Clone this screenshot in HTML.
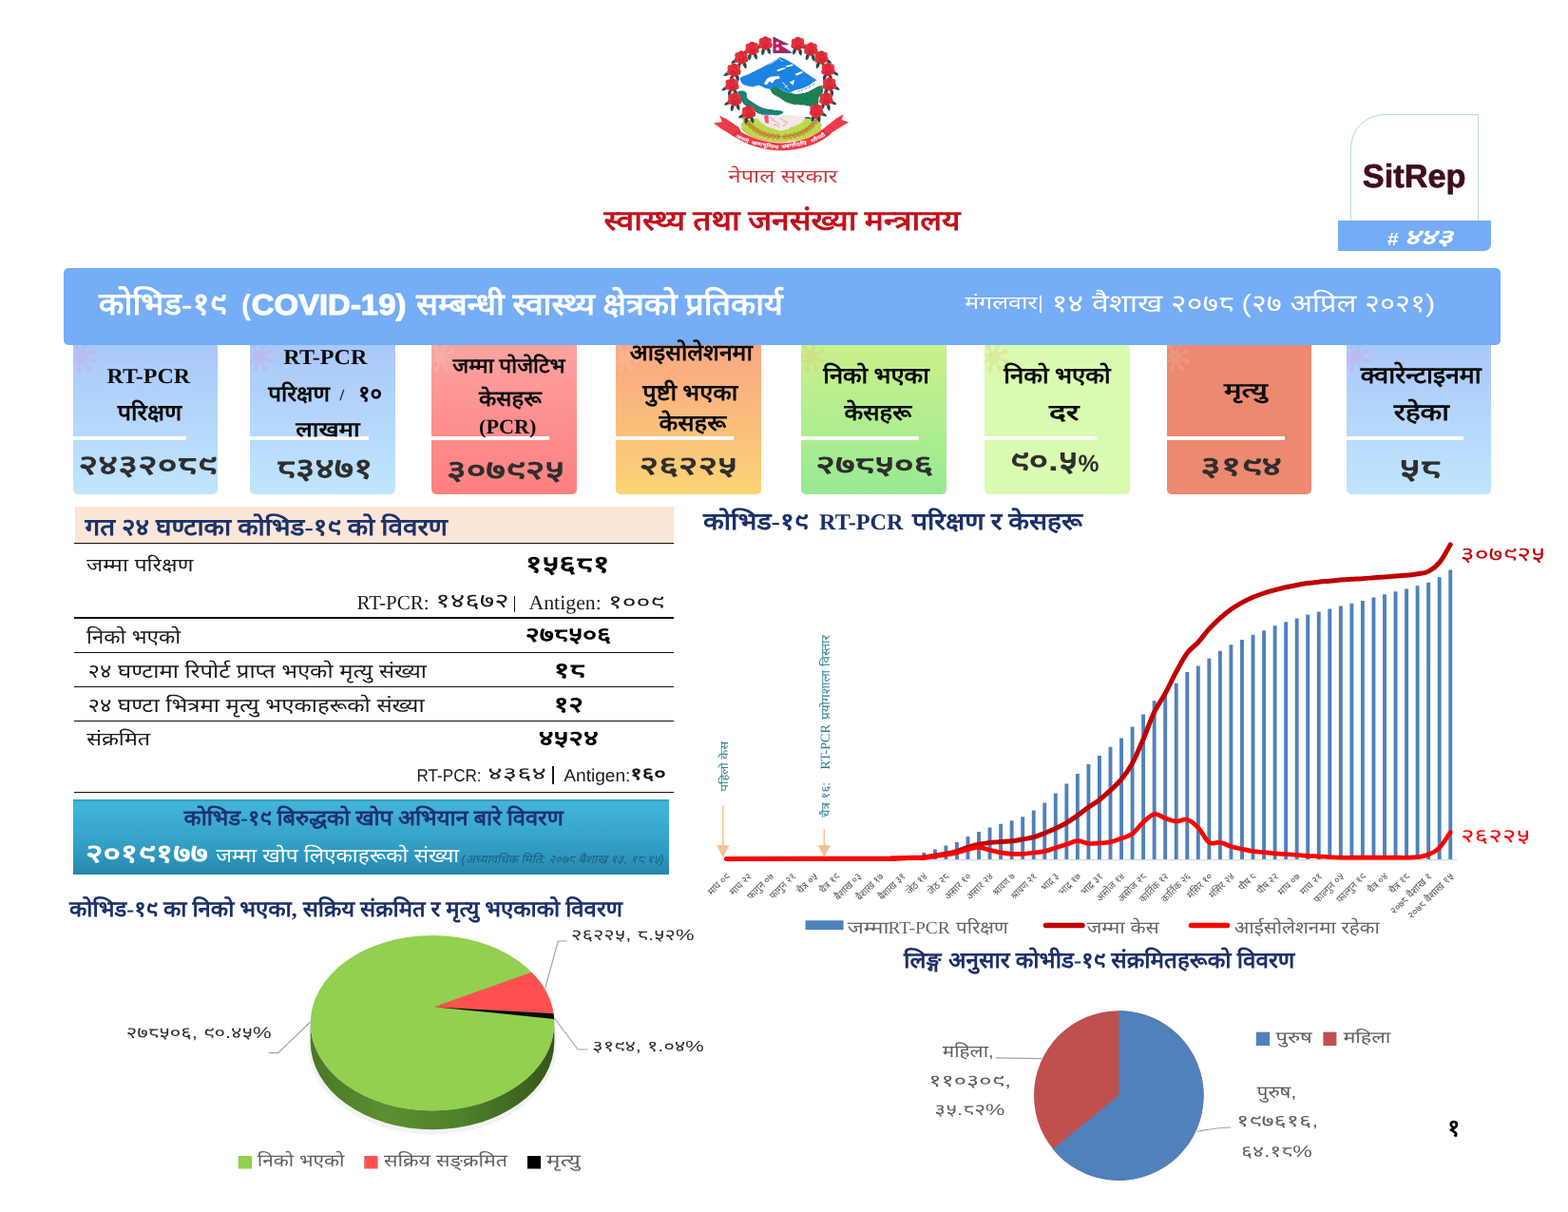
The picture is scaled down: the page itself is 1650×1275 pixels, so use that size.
<!DOCTYPE html>
<html lang="ne"><head><meta charset="utf-8"><title>COVID-19 SitRep #443 - MoHP Nepal</title><style>
html,body{margin:0;padding:0;background:#fff}
#page{position:relative;width:1650px;height:1275px;overflow:hidden;background:#fff;font-family:"Liberation Sans",sans-serif}
#page>div{position:absolute}
#page>svg{position:absolute;left:0;top:0}
.l{white-space:nowrap;line-height:1;transform-origin:0 50%}
.ls{font-family:"Liberation Serif",serif}.lsb{font-family:"Liberation Serif",serif;font-weight:700}
.la{font-family:"Liberation Sans",sans-serif}.lab{font-family:"Liberation Sans",sans-serif;font-weight:700}
svg text{white-space:pre;text-rendering:geometricPrecision;opacity:.999}
</style></head><body>
<div id="page">
<div style="left:1420.5px;top:119.5px;width:135px;height:113px;border:1px solid #b9dcdc;border-bottom:none;border-radius:36px 0 0 0;box-sizing:border-box"></div>
<div style="left:1407.5px;top:231.7px;width:161px;height:32.6px;background:#74acf7;border-radius:0 0 7px 0"></div>
<div style="left:76.7px;top:355px;width:152.6px;height:164.5px;background:linear-gradient(180deg,#a8c6fa 0%,#b4d6fb 50%,#c0e6fd 100%);border-radius:0 0 5px 5px"></div>
<div style="left:76.7px;top:458.9px;width:119.1px;height:3.7px;background:#fff"></div>
<div style="left:263px;top:355px;width:152.8px;height:164.5px;background:linear-gradient(180deg,#a8c6fa 0%,#b4d6fb 50%,#c0e6fd 100%);border-radius:0 0 5px 5px"></div>
<div style="left:263px;top:458.9px;width:125.3px;height:3.7px;background:#fff"></div>
<div style="left:454.2px;top:355px;width:152.5px;height:164.5px;background:linear-gradient(180deg,#fba7a3 0%,#fd9090 50%,#ff8080 100%);border-radius:0 0 5px 5px"></div>
<div style="left:454.2px;top:458.9px;width:124.1px;height:3.7px;background:#fff"></div>
<div style="left:648.3px;top:355px;width:152.9px;height:164.5px;background:linear-gradient(180deg,#f9a585 0%,#fabb7c 50%,#fbd474 100%);border-radius:0 0 5px 5px"></div>
<div style="left:648.3px;top:458.9px;width:124.2px;height:3.7px;background:#fff"></div>
<div style="left:843.3px;top:355px;width:152.6px;height:164.5px;background:linear-gradient(180deg,#ccf08c 0%,#b3ee8e 50%,#98e993 100%);border-radius:0 0 5px 5px"></div>
<div style="left:843.3px;top:458.9px;width:124.2px;height:3.7px;background:#fff"></div>
<div style="left:1036.3px;top:355px;width:152.9px;height:164.5px;background:#d9fbb0;border-radius:0 0 5px 5px"></div>
<div style="left:1036.3px;top:458.9px;width:117.9px;height:3.7px;background:#fff"></div>
<div style="left:1227.5px;top:355px;width:152.5px;height:164.5px;background:#ec8971;border-radius:0 0 5px 5px"></div>
<div style="left:1227.5px;top:458.9px;width:124.2px;height:3.7px;background:#fff"></div>
<div style="left:1417px;top:355px;width:152.3px;height:164.5px;background:linear-gradient(180deg,#a8c6fa 0%,#b4d6fb 50%,#c0e6fd 100%);border-radius:0 0 5px 5px"></div>
<div style="left:1417px;top:458.9px;width:123.2px;height:3.7px;background:#fff"></div>
<div style="left:67.4px;top:282.2px;width:1512px;height:81.1px;background:#75adf7;border-radius:5px"></div>
<div style="left:78.5px;top:532.5px;width:630px;height:39px;background:#fbe5d6"></div>
<div style="left:77.7px;top:570.8px;width:631px;height:1.3px;background:#111"></div>
<div style="left:77.7px;top:649.3px;width:631px;height:1.3px;background:#111"></div>
<div style="left:77.7px;top:685.6px;width:631px;height:1.3px;background:#111"></div>
<div style="left:77.7px;top:721.6px;width:631px;height:1.3px;background:#111"></div>
<div style="left:77.7px;top:757.8px;width:631px;height:1.3px;background:#111"></div>
<div style="left:77.7px;top:832.7px;width:631px;height:1.3px;background:#111"></div>
<div style="left:540.5px;top:627px;width:1.3px;height:17px;background:#1a1a1a"></div>
<div style="left:580.7px;top:806.4px;width:2.2px;height:18.2px;background:#1a1a1a"></div>
<div style="left:77px;top:841px;width:627px;height:79.4px;background:linear-gradient(180deg,#3197be 0%,#42b4da 4%,#39a8d0 40%,#2e98bf 75%,#2785ab 100%)"></div>
<svg width="1650" height="1275" viewBox="0 0 1650 1275">
<defs><g id="virus"><circle r="5.6"/><path d="M4.78 1.48L10.51 3.25" stroke-width="2.2" stroke-linecap="round"/><circle cx="11.46" cy="3.55" r="1.9"/><path d="M2.33 4.42L5.13 9.73" stroke-width="2.2" stroke-linecap="round"/><circle cx="5.6" cy="10.61" r="1.9"/><path d="M-1.48 4.78L-3.25 10.51" stroke-width="2.2" stroke-linecap="round"/><circle cx="-3.55" cy="11.46" r="1.9"/><path d="M-4.42 2.33L-9.73 5.13" stroke-width="2.2" stroke-linecap="round"/><circle cx="-10.61" cy="5.6" r="1.9"/><path d="M-4.78 -1.48L-10.51 -3.25" stroke-width="2.2" stroke-linecap="round"/><circle cx="-11.46" cy="-3.55" r="1.9"/><path d="M-2.33 -4.42L-5.13 -9.73" stroke-width="2.2" stroke-linecap="round"/><circle cx="-5.6" cy="-10.61" r="1.9"/><path d="M1.48 -4.78L3.25 -10.51" stroke-width="2.2" stroke-linecap="round"/><circle cx="3.55" cy="-11.46" r="1.9"/><path d="M4.42 -2.33L9.73 -5.13" stroke-width="2.2" stroke-linecap="round"/><circle cx="10.61" cy="-5.6" r="1.9"/></g><clipPath id="cc0"><rect x="76.7" y="363.3" width="152.6" height="156"/></clipPath><clipPath id="cc1"><rect x="263" y="363.3" width="152.8" height="156"/></clipPath><clipPath id="cc2"><rect x="454.2" y="363.3" width="152.5" height="156"/></clipPath><clipPath id="cc3"><rect x="648.3" y="363.3" width="152.9" height="156"/></clipPath><clipPath id="cc4"><rect x="843.3" y="363.3" width="152.6" height="156"/></clipPath><clipPath id="cc5"><rect x="1036.3" y="363.3" width="152.9" height="156"/></clipPath><clipPath id="cc6"><rect x="1227.5" y="363.3" width="152.5" height="156"/></clipPath><clipPath id="cc7"><rect x="1417" y="363.3" width="152.3" height="156"/></clipPath><linearGradient id="pside" x1="0" y1="0" x2="1" y2="0"><stop offset="0" stop-color="#4a7727"/><stop offset="0.3" stop-color="#5b9030"/><stop offset="0.62" stop-color="#4f802b"/><stop offset="1" stop-color="#34571b"/></linearGradient><filter id="soft" x="-5%" y="-5%" width="110%" height="110%"><feGaussianBlur stdDeviation="0.5"/></filter><radialGradient id="flw" cx="0.45" cy="0.4" r="0.65"><stop offset="0" stop-color="#ee3f48"/><stop offset="0.7" stop-color="#e02b38"/><stop offset="1" stop-color="#cf2433"/></radialGradient><g id="flower"><circle r="5.4" fill="url(#flw)"/><circle cx="-3.3" cy="-2.2" r="3.1" fill="#e5303c"/><circle cx="3.2" cy="-2.6" r="3" fill="#e83640"/><circle cx="0" cy="-4" r="2.9" fill="#dd2c38"/><circle cx="-3.8" cy="2" r="3" fill="#e2303b"/><circle cx="3.9" cy="1.8" r="3" fill="#df2d3a"/><circle cx="0.2" cy="3.6" r="3.1" fill="#d92836"/><path d="M-2 -1.2q1.4 1.6 0.6 3.4M1.4 -2.6q-0.4 1.6 1.6 3.2M-0.5 1.5q1 1 2.4 0.8" stroke="#b81d2c" stroke-width="0.7" fill="none" opacity="0.7"/></g><path id="leaf" d="M0 0C1.4 -1.7 4.4 -1.9 6.3 0C4.4 1.9 1.4 1.7 0 0Z" fill="#1b4f4c"/></defs>
<g clip-path="url(#cc0)"><use href="#virus" x="86.2" y="376" fill="#d9a0d8" stroke="#d9a0d8" opacity="0.36" transform="translate(86.2 376) scale(1.1) translate(-86.2 -376)"/></g>
<g clip-path="url(#cc1)"><use href="#virus" x="272.5" y="376" fill="#d9a0d8" stroke="#d9a0d8" opacity="0.36" transform="translate(272.5 376) scale(1.1) translate(-272.5 -376)"/></g>
<g clip-path="url(#cc2)"><use href="#virus" x="463.7" y="376" fill="#f7c1b4" stroke="#f7c1b4" opacity="0.36" transform="translate(463.7 376) scale(1.1) translate(-463.7 -376)"/></g>
<g clip-path="url(#cc3)"><use href="#virus" x="657.8" y="376" fill="#fcc0a6" stroke="#fcc0a6" opacity="0.36" transform="translate(657.8 376) scale(1.1) translate(-657.8 -376)"/></g>
<g clip-path="url(#cc4)"><use href="#virus" x="852.8" y="376" fill="#d6cc6e" stroke="#d6cc6e" opacity="0.36" transform="translate(852.8 376) scale(1.1) translate(-852.8 -376)"/></g>
<g clip-path="url(#cc5)"><use href="#virus" x="1045.8" y="376" fill="#dccf7c" stroke="#dccf7c" opacity="0.36" transform="translate(1045.8 376) scale(1.1) translate(-1045.8 -376)"/></g>
<g clip-path="url(#cc6)"><use href="#virus" x="1237" y="376" fill="#f4aa98" stroke="#f4aa98" opacity="0.36" transform="translate(1237 376) scale(1.1) translate(-1237 -376)"/></g>
<g clip-path="url(#cc7)"><use href="#virus" x="1426.5" y="376" fill="#d9a0d8" stroke="#d9a0d8" opacity="0.36" transform="translate(1426.5 376) scale(1.1) translate(-1426.5 -376)"/></g>
<rect x="765" y="904" width="768" height="1.3" fill="#d9d9d9"/>
<path d="M924.21 903.9h3.9v-0.9h-3.9zM935.75 903.9h3.9v-1.3h-3.9zM947.29 903.9h3.9v-1.8h-3.9zM958.83 903.9h3.9v-2.5h-3.9zM970.37 903.9h3.9v-6.9h-3.9zM981.91 903.9h3.9v-10.5h-3.9zM993.45 903.9h3.9v-14.3h-3.9zM1004.99 903.9h3.9v-17.8h-3.9zM1016.53 903.9h3.9v-23.8h-3.9zM1028.07 903.9h3.9v-28.9h-3.9zM1039.61 903.9h3.9v-33.4h-3.9zM1051.15 903.9h3.9v-37.2h-3.9zM1062.69 903.9h3.9v-40.7h-3.9zM1074.23 903.9h3.9v-44.7h-3.9zM1085.77 903.9h3.9v-51.4h-3.9zM1097.31 903.9h3.9v-59.4h-3.9zM1108.85 903.9h3.9v-69.4h-3.9zM1120.39 903.9h3.9v-79.4h-3.9zM1131.93 903.9h3.9v-89.8h-3.9zM1143.47 903.9h3.9v-99.8h-3.9zM1155.01 903.9h3.9v-108.8h-3.9zM1166.55 903.9h3.9v-118.2h-3.9zM1178.09 903.9h3.9v-127.5h-3.9zM1189.63 903.9h3.9v-139.3h-3.9zM1201.17 903.9h3.9v-152.5h-3.9zM1212.71 903.9h3.9v-166.6h-3.9zM1224.25 903.9h3.9v-175.9h-3.9zM1235.79 903.9h3.9v-185.2h-3.9zM1247.33 903.9h3.9v-196.8h-3.9zM1258.87 903.9h3.9v-203.3h-3.9zM1270.41 903.9h3.9v-211.2h-3.9zM1281.95 903.9h3.9v-219.1h-3.9zM1293.49 903.9h3.9v-225.6h-3.9zM1305.03 903.9h3.9v-231h-3.9zM1316.57 903.9h3.9v-236.1h-3.9zM1328.11 903.9h3.9v-240.6h-3.9zM1339.65 903.9h3.9v-245.7h-3.9zM1351.19 903.9h3.9v-249.7h-3.9zM1362.73 903.9h3.9v-253.3h-3.9zM1374.27 903.9h3.9v-257.3h-3.9zM1385.81 903.9h3.9v-260.5h-3.9zM1397.35 903.9h3.9v-263.3h-3.9zM1408.89 903.9h3.9v-266.5h-3.9zM1420.43 903.9h3.9v-269.1h-3.9zM1431.97 903.9h3.9v-272h-3.9zM1443.51 903.9h3.9v-275.5h-3.9zM1455.05 903.9h3.9v-278.7h-3.9zM1466.59 903.9h3.9v-281.6h-3.9zM1478.13 903.9h3.9v-284.5h-3.9zM1489.67 903.9h3.9v-287.7h-3.9zM1501.21 903.9h3.9v-291.2h-3.9zM1512.75 903.9h3.9v-296.7h-3.9zM1524.29 903.9h3.9v-304.5h-3.9z" fill="#4f81bd"/>
<path d="M764.6 903.4C794.22 903.38 894.43 903.35 926.16 903.3C957.9 903.25 933.47 903.19 937.7 903.1C941.93 903.01 945.01 902.95 949.24 902.8C953.47 902.65 956.55 902.46 960.78 902.3C965.01 902.13 968.09 902.3 972.32 901.9C976.55 901.5 979.63 900.76 983.86 900.1C988.09 899.44 991.17 899.12 995.4 898.3C999.63 897.47 1002.71 896.87 1006.94 895.6C1011.17 894.34 1014.25 892.74 1018.48 891.4C1022.71 890.06 1025.79 889.2 1030.02 888.3C1034.25 887.4 1037.33 887 1041.56 886.5C1045.79 886 1048.87 885.93 1053.1 885.6C1057.33 885.27 1060.41 885.19 1064.64 884.7C1068.87 884.2 1071.95 883.63 1076.18 882.9C1080.41 882.17 1083.49 881.87 1087.72 880.7C1091.95 879.53 1095.03 878.17 1099.26 876.5C1103.49 874.83 1106.57 873.6 1110.8 871.6C1115.03 869.6 1118.11 868.11 1122.34 865.6C1126.57 863.09 1129.65 860.91 1133.88 857.9C1138.11 854.89 1141.19 852.22 1145.42 849.2C1149.65 846.17 1152.73 844.66 1156.96 841.4C1161.19 838.14 1164.27 835.34 1168.5 831.4C1172.73 827.46 1175.81 825.12 1180.04 819.9C1184.27 814.67 1187.35 810.69 1191.58 802.9C1195.81 795.11 1198.89 787.25 1203.12 777.4C1207.35 767.55 1210.43 758 1214.66 749.2C1218.89 740.4 1221.97 737.17 1226.2 729.4C1230.43 721.63 1233.51 714.57 1237.74 706.8C1241.97 699.03 1245.05 692.7 1249.28 687C1253.51 681.3 1256.59 680.36 1260.82 675.7C1265.05 671.04 1268.13 666.26 1272.36 661.6C1276.59 656.94 1279.67 654.08 1283.9 650.3C1288.13 646.52 1291.21 644.01 1295.44 641C1299.67 637.99 1302.75 636.23 1306.98 633.9C1311.21 631.57 1314.29 630.11 1318.52 628.3C1322.75 626.49 1325.83 625.41 1330.06 624C1334.29 622.59 1337.37 621.74 1341.6 620.6C1345.83 619.46 1348.91 618.73 1353.14 617.8C1357.37 616.87 1360.45 616.27 1364.68 615.5C1368.91 614.73 1371.99 614.2 1376.22 613.6C1380.45 612.99 1383.53 612.64 1387.76 612.2C1391.99 611.76 1395.07 611.59 1399.3 611.2C1403.53 610.82 1406.61 610.45 1410.84 610.1C1415.07 609.75 1418.15 609.56 1422.38 609.3C1426.61 609.04 1429.69 608.98 1433.92 608.7C1438.15 608.43 1441.23 608.13 1445.46 607.8C1449.69 607.47 1452.77 607.21 1457 606.9C1461.23 606.59 1464.31 606.41 1468.54 606.1C1472.77 605.79 1475.85 605.64 1480.08 605.2C1484.31 604.76 1487.39 604.45 1491.62 603.7C1495.85 602.95 1498.93 603.28 1503.16 601.1C1507.39 598.92 1510.47 596.95 1514.7 591.8C1518.93 586.65 1524.12 576.45 1526.24 573" fill="none" stroke="#c00000" stroke-width="5.0" stroke-linecap="round" stroke-linejoin="round"/>
<path d="M764.6 903.4C794.22 903.38 894.43 903.35 926.16 903.3C957.9 903.25 933.47 903.19 937.7 903.1C941.93 903.01 945.01 902.91 949.24 902.8C953.47 902.69 956.55 902.59 960.78 902.5C965.01 902.41 968.09 902.63 972.32 902.3C976.55 901.97 979.63 901.27 983.86 900.7C988.09 900.13 991.17 899.9 995.4 899.2C999.63 898.5 1002.71 897.89 1006.94 896.9C1011.17 895.91 1014.25 894.81 1018.48 893.8C1022.71 892.79 1025.79 891.31 1030.02 891.4C1034.25 891.49 1037.33 893.29 1041.56 894.3C1045.79 895.31 1048.87 896.17 1053.1 896.9C1057.33 897.63 1060.41 898.04 1064.64 898.3C1068.87 898.56 1071.95 898.54 1076.18 898.3C1080.41 898.06 1083.49 897.5 1087.72 897C1091.95 896.5 1095.03 896.54 1099.26 895.6C1103.49 894.66 1106.57 893.24 1110.8 891.9C1115.03 890.56 1118.11 889.62 1122.34 888.3C1126.57 886.98 1129.65 884.86 1133.88 884.7C1138.11 884.53 1141.19 887 1145.42 887.4C1149.65 887.8 1152.73 887.17 1156.96 886.9C1161.19 886.62 1164.27 886.82 1168.5 885.9C1172.73 884.98 1175.81 883.51 1180.04 881.9C1184.27 880.29 1187.35 880.2 1191.58 877.1C1195.81 874 1198.89 868.78 1203.12 865C1207.35 861.22 1210.43 857.29 1214.66 856.5C1218.89 855.71 1221.97 859.31 1226.2 860.7C1230.43 862.09 1233.51 863.83 1237.74 864.1C1241.97 864.38 1245.05 861.01 1249.28 862.2C1253.51 863.39 1256.59 866.2 1260.82 870.6C1265.05 875 1268.13 883.34 1272.36 886.2C1276.59 889.06 1279.67 885.43 1283.9 886.2C1288.13 886.97 1291.21 889.12 1295.44 890.4C1299.67 891.68 1302.75 892.26 1306.98 893.2C1311.21 894.13 1314.29 894.88 1318.52 895.5C1322.75 896.12 1325.83 896.18 1330.06 896.6C1334.29 897.02 1337.37 897.43 1341.6 897.8C1345.83 898.17 1348.91 898.31 1353.14 898.6C1357.37 898.89 1360.45 899.09 1364.68 899.4C1368.91 899.71 1371.99 900.04 1376.22 900.3C1380.45 900.56 1383.53 900.56 1387.76 900.8C1391.99 901.04 1395.07 901.34 1399.3 901.6C1403.53 901.86 1406.61 902.09 1410.84 902.2C1415.07 902.31 1418.15 902.2 1422.38 902.2C1426.61 902.2 1429.69 902.2 1433.92 902.2C1438.15 902.2 1441.23 902.2 1445.46 902.2C1449.69 902.2 1452.77 902.2 1457 902.2C1461.23 902.2 1464.31 902.2 1468.54 902.2C1472.77 902.2 1475.85 902.29 1480.08 902.2C1484.31 902.11 1487.39 902.29 1491.62 901.7C1495.85 901.11 1498.93 900.81 1503.16 899C1507.39 897.19 1510.47 896.11 1514.7 891.8C1518.93 887.49 1524.12 878.49 1526.24 875.5" fill="none" stroke="#ff0000" stroke-width="4.7" stroke-linecap="round" stroke-linejoin="round"/>
<path d="M760.8 847.7V890" stroke="#f7c093" stroke-width="1.6" fill="none"/><path d="M754.1 889.3h13.4l-6.7 12.4z" fill="#f7c093"/>
<path d="M867.4 872.5V890" stroke="#f7c093" stroke-width="1.6" fill="none"/><path d="M860.7 889.3h13.4l-6.7 12.4z" fill="#f7c093"/>
<rect x="847.6" y="968.3" width="40" height="9.8" fill="#4f81bd"/>
<path d="M1100.5 973.4H1139" stroke="#c00000" stroke-width="5.5" stroke-linecap="round"/>
<path d="M1253.5 973.4H1291.5" stroke="#ff0000" stroke-width="5.5" stroke-linecap="round"/>
<ellipse cx="455.0" cy="1099.2" rx="131.3" ry="94.2" fill="#000" opacity="0.05"/>
<path d="M326.7 1076.2A128.3 92.2 0 0 0 583.3 1076.2V1096.2A128.3 92.2 0 0 1 326.7 1096.2Z" fill="url(#pside)"/>
<ellipse cx="455.0" cy="1076.2" rx="128.3" ry="92.2" fill="#92d050"/>
<path d="M456.7 1059.2L559.48 1022.69A128.3 92.2 0 0 1 582.54 1066.2Z" fill="#ff5050"/>
<path d="M456.7 1059.2L582.54 1066.2A128.3 92.2 0 0 1 583.16 1071.9Z" fill="#0a0a0a"/>
<path d="M582.54 1066.2L583.16 1071.9V1074.9L582.54 1069.2Z" fill="#000"/>
<path d="M282.7 1107.7H292.7L326.7 1075" fill="none" stroke="#a6a6a6" stroke-width="1.2"/>
<path d="M596.7 990H587.3L573.6 1040" fill="none" stroke="#a6a6a6" stroke-width="1.2"/>
<path d="M583 1070.5L608 1104H618.5" fill="none" stroke="#a6a6a6" stroke-width="1.2"/>
<rect x="250.7" y="1216" width="14.3" height="13.5" fill="#92d050"/><rect x="383.3" y="1216" width="14.3" height="13.5" fill="#ff5050"/><rect x="555" y="1216" width="14" height="13.5" fill="#000"/>
<circle cx="1177.3" cy="1152.5" r="89.3" fill="#c0504d"/>
<path d="M1177.3 1152.5V1063.2A89.3 89.3 0 1 1 1107.85 1208.64Z" fill="#4f81bd"/>
<path d="M1047.5 1112.8L1096.5 1113.6" fill="none" stroke="#a6a6a6" stroke-width="1.2"/>
<path d="M1259.5 1190.5Q1278 1186.5 1295 1186" fill="none" stroke="#a6a6a6" stroke-width="1.2"/>
<rect x="1321.8" y="1085.7" width="14.3" height="14.3" fill="#4f81bd"/><rect x="1392.4" y="1085.7" width="14" height="14.3" fill="#c0504d"/>
<g filter="url(#soft)"><path d="M778.91 81.91C779.8 80.65 786.42 78.72 789.09 77.46C791.76 76.19 798.85 72.65 801.82 71.09C804.79 69.53 812.39 65.35 814.55 64.09C816.7 62.83 818.79 60.42 820.27 60.27C821.76 60.12 825.34 61.85 827.27 62.82C829.2 63.78 834.59 67.06 836.82 68.55C839.05 70.03 844.29 74.06 846.37 75.55C848.44 77.03 853.12 80.22 854.64 81.27C856.16 82.33 859.04 83.54 859.41 84.58C859.78 85.62 858.97 88.86 857.82 90.18C856.67 91.5 851.63 94.98 849.55 95.91C847.47 96.84 841.93 97.95 840 98.14C838.07 98.32 834.63 97.76 833 97.5C831.37 97.24 827.56 96.47 826 95.91C824.44 95.35 820.97 93.19 819.64 92.73C818.3 92.27 815.59 91.85 814.55 91.96C813.51 92.08 811.77 93.59 810.73 93.68C809.69 93.77 807.05 93.2 805.64 92.73C804.23 92.26 800.2 89.86 798.64 89.67C797.08 89.49 793.76 91.08 792.27 91.14C790.79 91.2 787.17 90.52 785.91 90.18C784.65 89.85 782.27 89.24 781.45 88.27C780.64 87.31 778.02 83.17 778.91 81.91Z" fill="#1b84e2"/><path d="M809.46 67.91C810.3 67.38 812.9 65.79 814.55 64.73C816.19 63.67 818.26 61.86 819.32 61.55C820.38 61.23 820.11 62.29 820.91 62.82C821.71 63.35 823.56 64.41 824.09 64.73" fill="none" stroke="#fff" stroke-width="0.9" opacity="0.9"/><path d="M804.05 87.96C804.07 87.52 807.06 83.03 807.55 82.55C808.03 82.07 810.56 80.93 811.36 80.76C812.17 80.59 819.02 79.89 819.64 80C820.25 80.11 820.87 82.17 820.59 82.42C820.32 82.66 815.95 83.43 815.5 83.69C815.06 83.95 814.14 86.1 813.91 86.36C813.68 86.63 812.28 87.69 812 87.64C811.73 87.59 810.09 85.51 809.77 85.6C809.46 85.69 807.61 88.88 807.23 89.04C806.85 89.19 804.02 88.39 804.05 87.96Z" fill="#fff"/><path d="M817.73 73.51C818.4 73.1 824.51 71.09 825.36 70.96C826.22 70.84 826.99 71.83 826.32 72.24C825.65 72.64 819.54 74.91 818.68 75.04C817.82 75.16 817.06 73.92 817.73 73.51Z" fill="#fff"/><path d="M826.96 69.31C827.56 69.02 832.89 67.81 833.64 67.78C834.38 67.76 835.01 68.77 834.4 69.05C833.8 69.34 828.34 70.62 827.59 70.65C826.85 70.67 826.35 69.6 826.96 69.31Z" fill="#fff"/><path d="M837.14 77.58C837.71 77.12 843.07 75.02 843.82 74.91C844.56 74.79 845.16 75.98 844.58 76.44C844.01 76.89 838.84 79.38 838.09 79.49C837.35 79.61 836.56 78.04 837.14 77.58Z" fill="#fff"/><path d="M830.77 86.68C830.82 86.36 835.39 84.16 835.67 84.33C835.96 84.5 835.36 89.07 835.04 89.23C834.71 89.38 830.73 87.01 830.77 86.68Z" fill="#fff"/><path d="M823.46 86.36C823.99 87 825.52 88.86 826.64 90.18C827.75 91.51 829.55 93.63 830.14 94.32" fill="none" stroke="#fff" stroke-width="0.9"/><path d="M825.36 92.73C825.63 92.41 826.32 91.24 826.96 90.82C827.59 90.39 828.81 90.29 829.18 90.18" fill="none" stroke="#fff" stroke-width="0.7"/><path d="M810.73 93.68C810.73 92.84 813.51 91.95 814.55 91.84C815.59 91.73 818.3 92.22 819.64 92.73C820.97 93.24 824.44 95.62 826 96.23C827.56 96.84 831.37 97.65 833 97.95C834.63 98.24 838.07 98.9 840 98.77C841.93 98.65 847.32 97.68 849.55 96.86C851.77 96.05 857.31 92.55 859.09 91.77C860.87 90.99 864 89.63 864.82 90.18C865.64 90.74 866.46 95.06 866.09 96.55C865.72 98.03 862.23 101.43 861.64 102.91C861.04 104.39 861.82 108.23 861 109.27C860.18 110.31 856.35 111.73 854.64 111.82C852.93 111.91 848.59 110.32 846.37 110.04C844.14 109.76 837.77 109.79 835.55 109.4C833.32 109.01 828.98 107.54 827.27 106.73C825.57 105.91 822.39 103.29 820.91 102.4C819.43 101.51 815.73 100.11 814.55 99.09C813.36 98.07 810.73 94.53 810.73 93.68Z" fill="#1e8057"/><path d="M810.73 94C811.24 94.7 813.19 98.08 814.55 99.22C815.9 100.36 819.21 101.51 820.91 102.53C822.61 103.55 825.32 105.92 827.27 106.86C829.23 107.79 833 109.09 835.55 109.53C838.09 109.97 843.82 109.84 846.37 110.16C848.91 110.49 853.53 111.71 854.64 111.95" fill="none" stroke="#12503a" stroke-width="1.1" stroke-dasharray="1.5 0.9"/><path d="M832.68 96.55C832.94 96.22 834.96 95.52 836.18 95.15C837.41 94.78 841.25 94.09 843.18 93.36C845.11 92.64 850.87 89.93 852.73 88.91C854.58 87.89 858.16 84.73 859.09 84.58C860.02 84.43 860.79 86.8 860.68 87.64C860.57 88.48 859.44 90.73 858.14 91.77C856.84 92.81 851.66 95.75 849.55 96.55C847.43 97.34 841.82 98.42 840 98.58C838.18 98.75 834.81 98.18 833.96 97.95C833.1 97.71 832.42 96.87 832.68 96.55Z" fill="#fff"/><path d="M843.18 95.91l1.91 -2.23M847.32 94.32l1.91 -2.42M851.46 92.41l1.78 -2.55M855.27 90.18l1.59 -2.55M839.68 96.86l1.59 -1.78" stroke="#2b7dd8" stroke-width="0.9" fill="none"/><path d="M776.36 96.55C776.79 95.57 780.22 95.42 781.45 95.59C782.69 95.76 784.95 96.84 785.59 97.82C786.23 98.79 785.51 101.72 786.23 102.91C786.95 104.1 789.35 105.54 791 106.73C792.65 107.92 796.69 110.8 798.64 111.82C800.59 112.84 803.52 113.86 805.64 114.36C807.76 114.87 812.51 115.38 814.55 115.64C816.58 115.89 819.59 115.92 820.91 116.27C822.23 116.63 824.75 117.61 824.41 118.31C824.07 119.01 820.53 121.08 818.36 121.49C816.2 121.9 810.9 121.72 808.18 121.36C805.47 121.01 800.55 119.91 798 118.82C795.46 117.73 791.13 114.49 789.09 113.22C787.05 111.95 784.17 110.65 782.73 109.27C781.29 107.9 779.12 104.61 778.27 102.91C777.42 101.21 775.94 97.52 776.36 96.55Z" fill="#1c8272"/><path d="M782.73 109.4C783.58 109.93 787.05 112.07 789.09 113.35C791.13 114.62 795.46 117.86 798 118.95C800.55 120.03 805.47 121.14 808.18 121.49C810.9 121.85 817.01 121.6 818.36 121.62" fill="none" stroke="#125446" stroke-width="1.1" stroke-dasharray="1.5 0.9"/><path d="M846.5 123.4q4-1.2 6.8 0.4l0.4 4.4q-3.6 1-7-0.4z" fill="#1d6b58"/><path d="M779.4 131C782 125.6 795 123.6 822 123.6C850 123.6 862 125.4 865 131.6C862 141 848 147.6 822 148.6C797 147.8 783 141.4 779.4 131Z" fill="#b9da50"/><path d="M780.5 134.6C786 143 800 148.2 822 149C846 148.2 859 142.6 864 135" fill="none" stroke="#e6b23c" stroke-width="1.3"/><ellipse cx="0" cy="0" rx="2.5" ry="0.95" transform="translate(820.5 143.8) rotate(-179.3) translate(1.2 -1.15) rotate(-28)" fill="#e39a3e" stroke="#9c5d1e" stroke-width="0.35"/><ellipse cx="0" cy="0" rx="2.5" ry="0.95" transform="translate(820.5 143.8) rotate(-179.3) translate(1.2 1.15) rotate(28)" fill="#e39a3e" stroke="#9c5d1e" stroke-width="0.35"/><ellipse cx="0" cy="0" rx="2.5" ry="0.95" transform="translate(815.72 143.55) rotate(-174.68) translate(1.2 -1.15) rotate(-28)" fill="#e39a3e" stroke="#9c5d1e" stroke-width="0.35"/><ellipse cx="0" cy="0" rx="2.5" ry="0.95" transform="translate(815.72 143.55) rotate(-174.68) translate(1.2 1.15) rotate(28)" fill="#e39a3e" stroke="#9c5d1e" stroke-width="0.35"/><ellipse cx="0" cy="0" rx="2.5" ry="0.95" transform="translate(811.18 142.93) rotate(-169.64) translate(1.2 -1.15) rotate(-28)" fill="#e39a3e" stroke="#9c5d1e" stroke-width="0.35"/><ellipse cx="0" cy="0" rx="2.5" ry="0.95" transform="translate(811.18 142.93) rotate(-169.64) translate(1.2 1.15) rotate(28)" fill="#e39a3e" stroke="#9c5d1e" stroke-width="0.35"/><ellipse cx="0" cy="0" rx="2.5" ry="0.95" transform="translate(806.88 141.94) rotate(-164.21) translate(1.2 -1.15) rotate(-28)" fill="#e39a3e" stroke="#9c5d1e" stroke-width="0.35"/><ellipse cx="0" cy="0" rx="2.5" ry="0.95" transform="translate(806.88 141.94) rotate(-164.21) translate(1.2 1.15) rotate(28)" fill="#e39a3e" stroke="#9c5d1e" stroke-width="0.35"/><ellipse cx="0" cy="0" rx="2.5" ry="0.95" transform="translate(802.82 140.57) rotate(-158.45) translate(1.2 -1.15) rotate(-28)" fill="#e39a3e" stroke="#9c5d1e" stroke-width="0.35"/><ellipse cx="0" cy="0" rx="2.5" ry="0.95" transform="translate(802.82 140.57) rotate(-158.45) translate(1.2 1.15) rotate(28)" fill="#e39a3e" stroke="#9c5d1e" stroke-width="0.35"/><ellipse cx="0" cy="0" rx="2.5" ry="0.95" transform="translate(799 138.82) rotate(-152.45) translate(1.2 -1.15) rotate(-28)" fill="#e39a3e" stroke="#9c5d1e" stroke-width="0.35"/><ellipse cx="0" cy="0" rx="2.5" ry="0.95" transform="translate(799 138.82) rotate(-152.45) translate(1.2 1.15) rotate(28)" fill="#e39a3e" stroke="#9c5d1e" stroke-width="0.35"/><ellipse cx="0" cy="0" rx="2.5" ry="0.95" transform="translate(795.42 136.71) rotate(-146.34) translate(1.2 -1.15) rotate(-28)" fill="#e39a3e" stroke="#9c5d1e" stroke-width="0.35"/><ellipse cx="0" cy="0" rx="2.5" ry="0.95" transform="translate(795.42 136.71) rotate(-146.34) translate(1.2 1.15) rotate(28)" fill="#e39a3e" stroke="#9c5d1e" stroke-width="0.35"/><ellipse cx="0" cy="0" rx="2.5" ry="0.95" transform="translate(792.08 134.22) rotate(-140.25) translate(1.2 -1.15) rotate(-28)" fill="#e39a3e" stroke="#9c5d1e" stroke-width="0.35"/><ellipse cx="0" cy="0" rx="2.5" ry="0.95" transform="translate(792.08 134.22) rotate(-140.25) translate(1.2 1.15) rotate(28)" fill="#e39a3e" stroke="#9c5d1e" stroke-width="0.35"/><ellipse cx="0" cy="0" rx="2.5" ry="0.95" transform="translate(788.98 131.35) rotate(-134.32) translate(1.2 -1.15) rotate(-28)" fill="#e39a3e" stroke="#9c5d1e" stroke-width="0.35"/><ellipse cx="0" cy="0" rx="2.5" ry="0.95" transform="translate(788.98 131.35) rotate(-134.32) translate(1.2 1.15) rotate(28)" fill="#e39a3e" stroke="#9c5d1e" stroke-width="0.35"/><ellipse cx="0" cy="0" rx="2.5" ry="0.95" transform="translate(786.12 128.11) rotate(-128.65) translate(1.2 -1.15) rotate(-28)" fill="#e39a3e" stroke="#9c5d1e" stroke-width="0.35"/><ellipse cx="0" cy="0" rx="2.5" ry="0.95" transform="translate(786.12 128.11) rotate(-128.65) translate(1.2 1.15) rotate(28)" fill="#e39a3e" stroke="#9c5d1e" stroke-width="0.35"/><ellipse cx="0" cy="0" rx="2.5" ry="0.95" transform="translate(783.5 124.5) rotate(-123.34) translate(1.2 -1.15) rotate(-28)" fill="#e39a3e" stroke="#9c5d1e" stroke-width="0.35"/><ellipse cx="0" cy="0" rx="2.5" ry="0.95" transform="translate(783.5 124.5) rotate(-123.34) translate(1.2 1.15) rotate(28)" fill="#e39a3e" stroke="#9c5d1e" stroke-width="0.35"/><path d="M820.5 143.8Q796 143.5 783.5 124.5" fill="none" stroke="#b36f24" stroke-width="0.6"/><ellipse cx="0" cy="0" rx="2.5" ry="0.95" transform="translate(824.5 143.8) rotate(-1.8) translate(1.2 -1.15) rotate(-28)" fill="#e39a3e" stroke="#9c5d1e" stroke-width="0.35"/><ellipse cx="0" cy="0" rx="2.5" ry="0.95" transform="translate(824.5 143.8) rotate(-1.8) translate(1.2 1.15) rotate(28)" fill="#e39a3e" stroke="#9c5d1e" stroke-width="0.35"/><ellipse cx="0" cy="0" rx="2.5" ry="0.95" transform="translate(829.46 143.44) rotate(-6.56) translate(1.2 -1.15) rotate(-28)" fill="#e39a3e" stroke="#9c5d1e" stroke-width="0.35"/><ellipse cx="0" cy="0" rx="2.5" ry="0.95" transform="translate(829.46 143.44) rotate(-6.56) translate(1.2 1.15) rotate(28)" fill="#e39a3e" stroke="#9c5d1e" stroke-width="0.35"/><ellipse cx="0" cy="0" rx="2.5" ry="0.95" transform="translate(834.14 142.69) rotate(-11.79) translate(1.2 -1.15) rotate(-28)" fill="#e39a3e" stroke="#9c5d1e" stroke-width="0.35"/><ellipse cx="0" cy="0" rx="2.5" ry="0.95" transform="translate(834.14 142.69) rotate(-11.79) translate(1.2 1.15) rotate(28)" fill="#e39a3e" stroke="#9c5d1e" stroke-width="0.35"/><ellipse cx="0" cy="0" rx="2.5" ry="0.95" transform="translate(838.54 141.55) rotate(-17.49) translate(1.2 -1.15) rotate(-28)" fill="#e39a3e" stroke="#9c5d1e" stroke-width="0.35"/><ellipse cx="0" cy="0" rx="2.5" ry="0.95" transform="translate(838.54 141.55) rotate(-17.49) translate(1.2 1.15) rotate(28)" fill="#e39a3e" stroke="#9c5d1e" stroke-width="0.35"/><ellipse cx="0" cy="0" rx="2.5" ry="0.95" transform="translate(842.66 140.01) rotate(-23.57) translate(1.2 -1.15) rotate(-28)" fill="#e39a3e" stroke="#9c5d1e" stroke-width="0.35"/><ellipse cx="0" cy="0" rx="2.5" ry="0.95" transform="translate(842.66 140.01) rotate(-23.57) translate(1.2 1.15) rotate(28)" fill="#e39a3e" stroke="#9c5d1e" stroke-width="0.35"/><ellipse cx="0" cy="0" rx="2.5" ry="0.95" transform="translate(846.5 138.07) rotate(-29.93) translate(1.2 -1.15) rotate(-28)" fill="#e39a3e" stroke="#9c5d1e" stroke-width="0.35"/><ellipse cx="0" cy="0" rx="2.5" ry="0.95" transform="translate(846.5 138.07) rotate(-29.93) translate(1.2 1.15) rotate(28)" fill="#e39a3e" stroke="#9c5d1e" stroke-width="0.35"/><ellipse cx="0" cy="0" rx="2.5" ry="0.95" transform="translate(850.06 135.75) rotate(-36.43) translate(1.2 -1.15) rotate(-28)" fill="#e39a3e" stroke="#9c5d1e" stroke-width="0.35"/><ellipse cx="0" cy="0" rx="2.5" ry="0.95" transform="translate(850.06 135.75) rotate(-36.43) translate(1.2 1.15) rotate(28)" fill="#e39a3e" stroke="#9c5d1e" stroke-width="0.35"/><ellipse cx="0" cy="0" rx="2.5" ry="0.95" transform="translate(853.34 133.03) rotate(-42.9) translate(1.2 -1.15) rotate(-28)" fill="#e39a3e" stroke="#9c5d1e" stroke-width="0.35"/><ellipse cx="0" cy="0" rx="2.5" ry="0.95" transform="translate(853.34 133.03) rotate(-42.9) translate(1.2 1.15) rotate(28)" fill="#e39a3e" stroke="#9c5d1e" stroke-width="0.35"/><ellipse cx="0" cy="0" rx="2.5" ry="0.95" transform="translate(856.34 129.91) rotate(-49.19) translate(1.2 -1.15) rotate(-28)" fill="#e39a3e" stroke="#9c5d1e" stroke-width="0.35"/><ellipse cx="0" cy="0" rx="2.5" ry="0.95" transform="translate(856.34 129.91) rotate(-49.19) translate(1.2 1.15) rotate(28)" fill="#e39a3e" stroke="#9c5d1e" stroke-width="0.35"/><ellipse cx="0" cy="0" rx="2.5" ry="0.95" transform="translate(859.06 126.4) rotate(-55.16) translate(1.2 -1.15) rotate(-28)" fill="#e39a3e" stroke="#9c5d1e" stroke-width="0.35"/><ellipse cx="0" cy="0" rx="2.5" ry="0.95" transform="translate(859.06 126.4) rotate(-55.16) translate(1.2 1.15) rotate(28)" fill="#e39a3e" stroke="#9c5d1e" stroke-width="0.35"/><ellipse cx="0" cy="0" rx="2.5" ry="0.95" transform="translate(861.5 122.5) rotate(-60.71) translate(1.2 -1.15) rotate(-28)" fill="#e39a3e" stroke="#9c5d1e" stroke-width="0.35"/><ellipse cx="0" cy="0" rx="2.5" ry="0.95" transform="translate(861.5 122.5) rotate(-60.71) translate(1.2 1.15) rotate(28)" fill="#e39a3e" stroke="#9c5d1e" stroke-width="0.35"/><path d="M824.5 143.8Q850 143 861.5 122.5" fill="none" stroke="#b36f24" stroke-width="0.6"/><path d="M795.7 122.6C803 120.2 812 120.6 820 121.6C829 120.6 840 121 847.4 123.8C845.6 128.6 839 132.6 832 134C828 137.6 820.5 138.4 816.5 136.2C808 134.6 799 129.6 795.7 122.6Z" fill="#f7e6e6"/><path d="M803.9 121.6l4.6-.5.5 8.8-3.8-1z" fill="#e75a7c"/><path d="M812 126q5 1.4 8.6 5.4M813.6 130.6q4 .6 6.4 3.4M821 124.2q3.2 3.6 8.4 5M823.6 132.8q2.6-1 4-3.4M809.5 123.5q3 0.5 5 2.5" stroke="#c08ea2" stroke-width="0.7" fill="none"/><path d="M757.2 121.8L763.8 124.8L775.8 132.8L779.4 138.6C792 146.4 808 150.2 822 150.6C840 150 853 145.6 864.2 137L875.2 128.6L880 124.6L887.6 120.2L885.6 126L893.2 128.6L875.6 139.2L872.8 142C860 152.6 842 158 822 158.4C802 157.8 786 152.6 770.4 142.4L758.6 135.2L750.8 129.6L759.8 128.2Z" fill="#ee3a4a"/><path d="M770.4 142.4L779.4 138.6L775.8 132.8M872.8 142L864.2 137" fill="none" stroke="#c92338" stroke-width="1"/><path d="M814 39.2L829 46.8L819.6 47L832.8 55.4L814 55.4Z" fill="#d2143f" stroke="#5d3f9c" stroke-width="1.1" stroke-linejoin="round"/><circle cx="818" cy="45.2" r="1.5" fill="#fff"/><circle cx="818.2" cy="51.4" r="1.8" fill="#fff"/><use href="#leaf" transform="translate(803.6 50.2) rotate(100) scale(1.3)"/><use href="#leaf" transform="translate(807.8 49.6) rotate(72) scale(1.3)"/><use href="#leaf" transform="translate(800.8 48) rotate(150) scale(1.15)"/><use href="#leaf" transform="translate(789.6 55.6) rotate(100) scale(1.3)"/><use href="#leaf" transform="translate(793.8 55) rotate(72) scale(1.3)"/><use href="#leaf" transform="translate(786.8 53.4) rotate(150) scale(1.15)"/><use href="#leaf" transform="translate(778.3 65.2) rotate(100) scale(1.3)"/><use href="#leaf" transform="translate(782.5 64.6) rotate(72) scale(1.3)"/><use href="#leaf" transform="translate(775.5 63) rotate(150) scale(1.15)"/><use href="#leaf" transform="translate(770.5 78.4) rotate(100) scale(1.3)"/><use href="#leaf" transform="translate(774.7 77.8) rotate(72) scale(1.3)"/><use href="#leaf" transform="translate(767.7 76.2) rotate(150) scale(1.15)"/><use href="#leaf" transform="translate(768.5 93.8) rotate(100) scale(1.3)"/><use href="#leaf" transform="translate(772.7 93.2) rotate(72) scale(1.3)"/><use href="#leaf" transform="translate(765.7 91.6) rotate(150) scale(1.15)"/><use href="#leaf" transform="translate(771.2 109.2) rotate(100) scale(1.3)"/><use href="#leaf" transform="translate(775.4 108.6) rotate(72) scale(1.3)"/><use href="#leaf" transform="translate(768.4 107) rotate(150) scale(1.15)"/><use href="#leaf" transform="translate(786 122.6) rotate(100) scale(1.3)"/><use href="#leaf" transform="translate(790.2 122) rotate(72) scale(1.3)"/><use href="#leaf" transform="translate(783.2 120.4) rotate(150) scale(1.15)"/><use href="#leaf" transform="translate(841.4 50.6) rotate(80) scale(1.3)"/><use href="#leaf" transform="translate(837.2 50) rotate(108) scale(1.3)"/><use href="#leaf" transform="translate(844.2 48.4) rotate(30) scale(1.15)"/><use href="#leaf" transform="translate(855.1 56.4) rotate(80) scale(1.3)"/><use href="#leaf" transform="translate(850.9 55.8) rotate(108) scale(1.3)"/><use href="#leaf" transform="translate(857.9 54.2) rotate(30) scale(1.15)"/><use href="#leaf" transform="translate(866.1 65.2) rotate(80) scale(1.3)"/><use href="#leaf" transform="translate(861.9 64.6) rotate(108) scale(1.3)"/><use href="#leaf" transform="translate(868.9 63) rotate(30) scale(1.15)"/><use href="#leaf" transform="translate(873.3 77.8) rotate(80) scale(1.3)"/><use href="#leaf" transform="translate(869.1 77.2) rotate(108) scale(1.3)"/><use href="#leaf" transform="translate(876.1 75.6) rotate(30) scale(1.15)"/><use href="#leaf" transform="translate(874.6 93.2) rotate(80) scale(1.3)"/><use href="#leaf" transform="translate(870.4 92.6) rotate(108) scale(1.3)"/><use href="#leaf" transform="translate(877.4 91) rotate(30) scale(1.15)"/><use href="#leaf" transform="translate(871.2 108.6) rotate(80) scale(1.3)"/><use href="#leaf" transform="translate(867 108) rotate(108) scale(1.3)"/><use href="#leaf" transform="translate(874 106.4) rotate(30) scale(1.15)"/><use href="#leaf" transform="translate(861 121) rotate(80) scale(1.3)"/><use href="#leaf" transform="translate(856.8 120.4) rotate(108) scale(1.3)"/><use href="#leaf" transform="translate(863.8 118.8) rotate(30) scale(1.15)"/><use href="#flower" transform="translate(805.4 45.6) scale(1.06)"/><use href="#flower" transform="translate(791.4 51) scale(1.06)"/><use href="#flower" transform="translate(780.1 60.6) scale(1.06)"/><use href="#flower" transform="translate(772.3 73.8) scale(1.06)"/><use href="#flower" transform="translate(770.3 89.2) scale(1.06)"/><use href="#flower" transform="translate(773 104.6) scale(1.06)"/><use href="#flower" transform="translate(787.8 118) scale(1.06)"/><use href="#flower" transform="translate(839.6 46) scale(1.06)"/><use href="#flower" transform="translate(853.3 51.8) scale(1.06)"/><use href="#flower" transform="translate(864.3 60.6) scale(1.06)"/><use href="#flower" transform="translate(871.5 73.2) scale(1.06)"/><use href="#flower" transform="translate(872.8 88.6) scale(1.06)"/><use href="#flower" transform="translate(869.4 104) scale(1.06)"/><use href="#flower" transform="translate(859.2 116.4) scale(1.06)"/><path d="M856.5 112.5q5 2.5 5.5 9l-2.4 4-3.4-1.2q-3.4-6-2.5-11z" fill="#df2d3a"/></g>
<text class="la" x="766.5" y="191.5" font-size="19.5" fill="#c73a3c" textLength="115" lengthAdjust="spacingAndGlyphs">नेपाल सरकार</text>
<text class="lsb" x="635.5" y="242.4" font-size="29.5" fill="#c1121c" textLength="375" lengthAdjust="spacingAndGlyphs">स्वास्थ्य तथा जनसंख्या मन्त्रालय</text>
<text class="lab" x="1433.81" y="196.6" font-size="34.5" fill="#3f0d1c" textLength="108.8" lengthAdjust="spacingAndGlyphs" stroke="#3f0d1c" stroke-width="0.7" stroke-linejoin="round">SitRep</text>
<text class="lab" x="1459.5" y="258" font-size="19" font-style="italic" fill="#fff" textLength="12" lengthAdjust="spacingAndGlyphs">#</text>
<text class="lab" x="1476.9" y="256.6" font-size="22" font-style="italic" fill="#fff" textLength="51.7" lengthAdjust="spacingAndGlyphs">४४३</text>
<text class="lsb" x="104" y="330.7" font-size="33" fill="#fff" textLength="134.4" lengthAdjust="spacingAndGlyphs">कोभिड-१९</text>
<text class="lab" x="254" y="330.7" font-size="30.5" fill="#fff">(</text>
<text class="lab" x="264.65" y="330.7" font-size="30.5" fill="#fff" textLength="162.79" lengthAdjust="spacingAndGlyphs" stroke="#fff" stroke-width="1.1" stroke-linejoin="round">COVID-19)</text>
<text class="lsb" x="438" y="330.7" font-size="32" fill="#fff" textLength="385.8" lengthAdjust="spacingAndGlyphs">सम्बन्धी स्वास्थ्य क्षेत्रको प्रतिकार्य</text>
<text class="la" x="1015.2" y="325.2" font-size="19.5" fill="#fff" textLength="83" lengthAdjust="spacingAndGlyphs">मंगलवार|</text>
<text class="la" x="1106.8" y="327.5" font-size="26" fill="#fff" textLength="192" lengthAdjust="spacingAndGlyphs">१४ वैशाख २०७८</text>
<text class="la" x="1306.6" y="327.5" font-size="26" fill="#fff" textLength="203.7" lengthAdjust="spacingAndGlyphs">(२७ अप्रिल २०२१)</text>
<text class="lsb" x="112.59" y="402.8" font-size="22.5" fill="#0b0b0b" textLength="87.5" lengthAdjust="spacingAndGlyphs">RT-PCR</text>
<text class="lsb" x="123.8" y="441.7" font-size="23.5" fill="#0b0b0b" textLength="67.4" lengthAdjust="spacingAndGlyphs">परिक्षण</text>
<text class="lab" x="82.5" y="499.4" font-size="29" fill="#2e2e2e" textLength="145.7" lengthAdjust="spacingAndGlyphs">२४३२०८९</text>
<text class="lsb" x="298.29" y="382.5" font-size="22.5" fill="#0b0b0b" textLength="88.2" lengthAdjust="spacingAndGlyphs">RT-PCR</text>
<text class="lsb" x="282.2" y="421.7" font-size="22.5" fill="#0b0b0b" textLength="64.8" lengthAdjust="spacingAndGlyphs">परिक्षण</text>
<text class="lsb" x="357.5" y="421" font-size="17" fill="#0b0b0b">/</text>
<text class="lsb" x="377" y="421.9" font-size="23.5" fill="#0b0b0b" textLength="25" lengthAdjust="spacingAndGlyphs">१०</text>
<text class="lsb" x="311.3" y="459.2" font-size="21.5" fill="#0b0b0b" textLength="67.4" lengthAdjust="spacingAndGlyphs">लाखमा</text>
<text class="lab" x="290.8" y="503.2" font-size="30" fill="#2e2e2e" textLength="101.5" lengthAdjust="spacingAndGlyphs">८३४७१</text>
<text class="lsb" x="476.3" y="392" font-size="21.5" fill="#0b0b0b" textLength="118.2" lengthAdjust="spacingAndGlyphs">जम्मा पोजेटिभ</text>
<text class="lsb" x="504" y="426.7" font-size="22.5" fill="#0b0b0b" textLength="65.7" lengthAdjust="spacingAndGlyphs">केसहरू</text>
<text class="lsb" x="504.03" y="455.8" font-size="21.8" fill="#0b0b0b" textLength="60.25" lengthAdjust="spacingAndGlyphs">(PCR)</text>
<text class="lab" x="470" y="503.6" font-size="28" fill="#2e2e2e" textLength="124" lengthAdjust="spacingAndGlyphs">३०७९२५</text>
<text class="lsb" x="662.8" y="379.2" font-size="24" fill="#0b0b0b" textLength="129" lengthAdjust="spacingAndGlyphs">आइसोलेशनमा</text>
<text class="lsb" x="676.3" y="420.8" font-size="23.5" fill="#0b0b0b" textLength="99.9" lengthAdjust="spacingAndGlyphs">पुष्टी भएका</text>
<text class="lsb" x="693.5" y="453.3" font-size="23.5" fill="#0b0b0b" textLength="70.7" lengthAdjust="spacingAndGlyphs">केसहरू</text>
<text class="lab" x="672.5" y="499.2" font-size="27" fill="#2e2e2e" textLength="103.2" lengthAdjust="spacingAndGlyphs">२६२२५</text>
<text class="lsb" x="866.3" y="403.3" font-size="23.5" fill="#0b0b0b" textLength="111.5" lengthAdjust="spacingAndGlyphs">निको भएका</text>
<text class="lsb" x="888.5" y="441.7" font-size="23.5" fill="#0b0b0b" textLength="70.7" lengthAdjust="spacingAndGlyphs">केसहरू</text>
<text class="lab" x="858.3" y="498.3" font-size="27" fill="#2e2e2e" textLength="124" lengthAdjust="spacingAndGlyphs">२७८५०६</text>
<text class="lsb" x="1056.3" y="403.3" font-size="23.5" fill="#0b0b0b" textLength="112.4" lengthAdjust="spacingAndGlyphs">निको भएको</text>
<text class="lsb" x="1104" y="441.7" font-size="23.5" fill="#0b0b0b" textLength="31.5" lengthAdjust="spacingAndGlyphs">दर</text>
<text class="lab" x="1062.5" y="494.8" font-size="30" fill="#2e2e2e" textLength="71.5" lengthAdjust="spacingAndGlyphs">९०.५</text>
<text class="lab" x="1134.5" y="496.2" font-size="25" fill="#2e2e2e" textLength="22" lengthAdjust="spacingAndGlyphs">%</text>
<text class="lsb" x="1288" y="417.5" font-size="21.5" fill="#0b0b0b" textLength="45.7" lengthAdjust="spacingAndGlyphs">मृत्यु</text>
<text class="lab" x="1263.3" y="499.5" font-size="28" fill="#2e2e2e" textLength="85.7" lengthAdjust="spacingAndGlyphs">३१९४</text>
<text class="lsb" x="1431.8" y="403.3" font-size="24.5" fill="#0b0b0b" textLength="127" lengthAdjust="spacingAndGlyphs">क्वारेन्टाइनमा</text>
<text class="lsb" x="1466.8" y="441.6" font-size="24.5" fill="#0b0b0b" textLength="58.2" lengthAdjust="spacingAndGlyphs">रहेका</text>
<text class="lab" x="1472.5" y="502.7" font-size="30" fill="#2e2e2e" textLength="43.8" lengthAdjust="spacingAndGlyphs">५८</text>
<text class="lsb" x="89.5" y="562.5" font-size="25" fill="#1c316b" textLength="381.5" lengthAdjust="spacingAndGlyphs">गत २४ घण्टाका कोभिड-१९ को विवरण</text>
<text class="la" x="91" y="600.8" font-size="19.5" fill="#1a1a1a" textLength="112.4" lengthAdjust="spacingAndGlyphs">जम्मा परिक्षण</text>
<text class="la" x="91" y="676.7" font-size="20.5" fill="#1a1a1a" textLength="99" lengthAdjust="spacingAndGlyphs">निको भएको</text>
<text class="la" x="92.6" y="713" font-size="20.5" fill="#1a1a1a" textLength="356.4" lengthAdjust="spacingAndGlyphs">२४ घण्टामा रिपोर्ट प्राप्त भएको मृत्यु संख्या</text>
<text class="la" x="92.6" y="749" font-size="20.5" fill="#1a1a1a" textLength="354.1" lengthAdjust="spacingAndGlyphs">२४ घण्टा भित्रमा मृत्यु भएकाहरूको संख्या</text>
<text class="la" x="91.2" y="784" font-size="19.5" fill="#1a1a1a" textLength="67" lengthAdjust="spacingAndGlyphs">संक्रमित</text>
<text class="lab" x="552.7" y="602.2" font-size="25" fill="#000" textLength="88.7" lengthAdjust="spacingAndGlyphs">१५६८१</text>
<text class="lab" x="552.7" y="674.9" font-size="21.5" fill="#000" textLength="90.5" lengthAdjust="spacingAndGlyphs">२७८५०६</text>
<text class="lab" x="582.7" y="713.1" font-size="23" fill="#000" textLength="33.1" lengthAdjust="spacingAndGlyphs">१८</text>
<text class="lab" x="582.7" y="748.8" font-size="23" fill="#000" textLength="31.3" lengthAdjust="spacingAndGlyphs">१२</text>
<text class="lab" x="566.8" y="784.4" font-size="22" fill="#000" textLength="63.1" lengthAdjust="spacingAndGlyphs">४५२४</text>
<text class="ls" x="375.39" y="641" font-size="21.5" fill="#1a1a1a" textLength="76.31" lengthAdjust="spacingAndGlyphs">RT-PCR:</text>
<text class="la" x="458.3" y="639" font-size="21" fill="#1a1a1a" textLength="77.4" lengthAdjust="spacingAndGlyphs">१४६७२</text>
<text class="ls" x="556.49" y="641" font-size="21.5" fill="#1a1a1a" textLength="76.28" lengthAdjust="spacingAndGlyphs">Antigen:</text>
<text class="la" x="640" y="639.5" font-size="20" fill="#1a1a1a" textLength="59" lengthAdjust="spacingAndGlyphs">१००९</text>
<text class="la" x="438.6" y="822.3" font-size="18.5" fill="#1a1a1a" textLength="67.96" lengthAdjust="spacingAndGlyphs">RT-PCR:</text>
<text class="la" x="513.3" y="820.3" font-size="18.5" fill="#1a1a1a" textLength="61.7" lengthAdjust="spacingAndGlyphs">४३६४</text>
<text class="la" x="593.26" y="822.3" font-size="18.5" fill="#1a1a1a" textLength="70.18" lengthAdjust="spacingAndGlyphs">Antigen:</text>
<text class="lab" x="663.3" y="819.5" font-size="18" fill="#1a1a1a" textLength="37.4" lengthAdjust="spacingAndGlyphs">१६०</text>
<text class="lsb" x="193.5" y="868" font-size="22.5" fill="#1c3272" textLength="399.3" lengthAdjust="spacingAndGlyphs">कोभिड-१९ बिरुद्धको खोप अभियान बारे विवरण</text>
<text class="lab" x="90" y="906.8" font-size="27" fill="#fff" textLength="129" lengthAdjust="spacingAndGlyphs">२०१९१७७</text>
<text class="la" x="227.2" y="907" font-size="20.5" fill="#fff" textLength="256" lengthAdjust="spacingAndGlyphs">जम्मा खोप लिएकाहरूको संख्या</text>
<text class="la" x="485.5" y="908.3" font-size="12.3" font-style="italic" fill="#1d5f83" textLength="213.2" lengthAdjust="spacingAndGlyphs">(अध्यावधिक मिति: २०७८ बैशाख १३, १८:१५)</text>
<text class="lsb" x="73" y="964" font-size="23" fill="#1c316b" textLength="581.9" lengthAdjust="spacingAndGlyphs">कोभिड-१९ का निको भएका, सक्रिय संक्रमित र मृत्यु भएकाको विवरण</text>
<text class="la" x="132.7" y="1092" font-size="16.8" fill="#2e2e2e" textLength="153" lengthAdjust="spacingAndGlyphs">२७८५०६, ९०.४५%</text>
<text class="la" x="601" y="989.1" font-size="16.3" fill="#2e2e2e" textLength="129.6" lengthAdjust="spacingAndGlyphs">२६२२५, ८.५२%</text>
<text class="la" x="623.3" y="1106.1" font-size="16" fill="#2e2e2e" textLength="117.4" lengthAdjust="spacingAndGlyphs">३१९४, १.०४%</text>
<text class="la" x="270.8" y="1227.3" font-size="18" fill="#5f5f5f" textLength="91.6" lengthAdjust="spacingAndGlyphs">निको भएको</text>
<text class="la" x="404.1" y="1227.3" font-size="18" fill="#5f5f5f" textLength="130" lengthAdjust="spacingAndGlyphs">सक्रिय सङ्क्रमित</text>
<text class="la" x="575.1" y="1227.3" font-size="18" fill="#5f5f5f" textLength="35.7" lengthAdjust="spacingAndGlyphs">मृत्यु</text>
<text class="lsb" x="740" y="557.3" font-size="25" fill="#1c316b" textLength="110.5" lengthAdjust="spacingAndGlyphs">कोभिड-१९</text>
<text class="lsb" x="862.09" y="557.3" font-size="24" fill="#1c316b" textLength="88.4" lengthAdjust="spacingAndGlyphs">RT-PCR</text>
<text class="lsb" x="960" y="557.3" font-size="25" fill="#1c316b" textLength="179" lengthAdjust="spacingAndGlyphs">परिक्षण र केसहरू</text>
<text class="la" x="1536.8" y="590.2" font-size="21" fill="#c00000" textLength="89.2" lengthAdjust="spacingAndGlyphs">३०७९२५</text>
<text class="la" x="1537" y="886.1" font-size="20" fill="#ff0000" textLength="73" lengthAdjust="spacingAndGlyphs">२६२२५</text>
<text class="la" x="891.7" y="981.5" font-size="18.3" fill="#666" textLength="43.7" lengthAdjust="spacingAndGlyphs">जम्मा</text>
<text class="ls" x="934.44" y="981.5" font-size="18.5" fill="#666" textLength="65.29" lengthAdjust="spacingAndGlyphs">RT-PCR</text>
<text class="la" x="1006" y="981.5" font-size="18.3" fill="#666" textLength="54.9" lengthAdjust="spacingAndGlyphs">परिक्षण</text>
<text class="la" x="1143.8" y="981.5" font-size="18.3" fill="#666" textLength="76" lengthAdjust="spacingAndGlyphs">जम्मा केस</text>
<text class="la" x="1298.8" y="981.5" font-size="18.3" fill="#666" textLength="153" lengthAdjust="spacingAndGlyphs">आईसोलेशनमा रहेका</text>
<text class="la" x="0" y="0" font-size="11.5" fill="#2f7f93" textLength="52.5" lengthAdjust="spacingAndGlyphs" transform="translate(766.1 832.4) rotate(-90)">पहिलो केस</text>
<text class="la" x="0" y="0" font-size="12.3" fill="#2f7f93" textLength="37" lengthAdjust="spacingAndGlyphs" transform="translate(872.5 860) rotate(-90)">चैत्र १६:</text>
<text class="ls" x="-0.41" y="0" font-size="14.13" fill="#2f7f93" textLength="47.33" lengthAdjust="spacingAndGlyphs" transform="translate(872.7 809) rotate(-90)">RT-PCR</text>
<text class="la" x="0" y="0" font-size="12.3" fill="#2f7f93" textLength="89" lengthAdjust="spacingAndGlyphs" transform="translate(872.5 757) rotate(-90)">प्रयोगशाला विस्तार</text>
<text class="la" x="0.5" y="0" font-size="10.6" fill="#555" text-anchor="end" textLength="28" lengthAdjust="spacingAndGlyphs" transform="translate(768.4 923) rotate(-45)">माघ ०९</text>
<text class="la" x="0.5" y="0" font-size="10.6" fill="#555" text-anchor="end" textLength="28" lengthAdjust="spacingAndGlyphs" transform="translate(791.48 923) rotate(-45)">माघ २२</text>
<text class="la" x="0.5" y="0" font-size="10.6" fill="#555" text-anchor="end" textLength="34.4" lengthAdjust="spacingAndGlyphs" transform="translate(814.56 923) rotate(-45)">फागुन ०७</text>
<text class="la" x="0.5" y="0" font-size="10.6" fill="#555" text-anchor="end" textLength="33.8" lengthAdjust="spacingAndGlyphs" transform="translate(837.64 923) rotate(-45)">फागुन २१</text>
<text class="la" x="0.5" y="0" font-size="10.6" fill="#555" text-anchor="end" textLength="26" lengthAdjust="spacingAndGlyphs" transform="translate(860.72 923) rotate(-45)">चैत्र ०५</text>
<text class="la" x="0.5" y="0" font-size="10.6" fill="#555" text-anchor="end" textLength="25.3" lengthAdjust="spacingAndGlyphs" transform="translate(883.8 923) rotate(-45)">चैत्र १९</text>
<text class="la" x="0.5" y="0" font-size="10.6" fill="#555" text-anchor="end" textLength="35.4" lengthAdjust="spacingAndGlyphs" transform="translate(906.88 923) rotate(-45)">बैशाख ०३</text>
<text class="la" x="0.5" y="0" font-size="10.6" fill="#555" text-anchor="end" textLength="35.9" lengthAdjust="spacingAndGlyphs" transform="translate(929.96 923) rotate(-45)">बैशाख १७</text>
<text class="la" x="0.5" y="0" font-size="10.6" fill="#555" text-anchor="end" textLength="35.3" lengthAdjust="spacingAndGlyphs" transform="translate(953.04 923) rotate(-45)">बैशाख ३१</text>
<text class="la" x="0.5" y="0" font-size="10.6" fill="#555" text-anchor="end" textLength="26.6" lengthAdjust="spacingAndGlyphs" transform="translate(976.12 923) rotate(-45)">जेठ १४</text>
<text class="la" x="0.5" y="0" font-size="10.6" fill="#555" text-anchor="end" textLength="27.3" lengthAdjust="spacingAndGlyphs" transform="translate(999.2 923) rotate(-45)">जेठ २८</text>
<text class="la" x="0.5" y="0" font-size="10.6" fill="#555" text-anchor="end" textLength="34.6" lengthAdjust="spacingAndGlyphs" transform="translate(1022.28 923) rotate(-45)">असार १०</text>
<text class="la" x="0.5" y="0" font-size="10.6" fill="#555" text-anchor="end" textLength="34.6" lengthAdjust="spacingAndGlyphs" transform="translate(1045.36 923) rotate(-45)">असार २४</text>
<text class="la" x="0.5" y="0" font-size="10.6" fill="#555" text-anchor="end" textLength="28.7" lengthAdjust="spacingAndGlyphs" transform="translate(1068.44 923) rotate(-45)">श्रावण ७</text>
<text class="la" x="0.5" y="0" font-size="10.6" fill="#555" text-anchor="end" textLength="34.2" lengthAdjust="spacingAndGlyphs" transform="translate(1091.52 923) rotate(-45)">श्रावण २१</text>
<text class="la" x="0.5" y="0" font-size="10.6" fill="#555" text-anchor="end" textLength="21.7" lengthAdjust="spacingAndGlyphs" transform="translate(1114.6 923) rotate(-45)">भाद्र ३</text>
<text class="la" x="0.5" y="0" font-size="10.6" fill="#555" text-anchor="end" textLength="28.2" lengthAdjust="spacingAndGlyphs" transform="translate(1137.68 923) rotate(-45)">भाद्र १७</text>
<text class="la" x="0.5" y="0" font-size="10.6" fill="#555" text-anchor="end" textLength="27.6" lengthAdjust="spacingAndGlyphs" transform="translate(1160.76 923) rotate(-45)">भाद्र ३१</text>
<text class="la" x="0.5" y="0" font-size="10.6" fill="#555" text-anchor="end" textLength="37.2" lengthAdjust="spacingAndGlyphs" transform="translate(1183.84 923) rotate(-45)">असोज १४</text>
<text class="la" x="0.5" y="0" font-size="10.6" fill="#555" text-anchor="end" textLength="37.9" lengthAdjust="spacingAndGlyphs" transform="translate(1206.92 923) rotate(-45)">असोज २८</text>
<text class="la" x="0.5" y="0" font-size="10.6" fill="#555" text-anchor="end" textLength="38.7" lengthAdjust="spacingAndGlyphs" transform="translate(1230 923) rotate(-45)">कार्तिक १२</text>
<text class="la" x="0.5" y="0" font-size="10.6" fill="#555" text-anchor="end" textLength="38.6" lengthAdjust="spacingAndGlyphs" transform="translate(1253.08 923) rotate(-45)">कार्तिक २६</text>
<text class="la" x="0.5" y="0" font-size="10.6" fill="#555" text-anchor="end" textLength="32.9" lengthAdjust="spacingAndGlyphs" transform="translate(1276.16 923) rotate(-45)">मंसिर १०</text>
<text class="la" x="0.5" y="0" font-size="10.6" fill="#555" text-anchor="end" textLength="32.8" lengthAdjust="spacingAndGlyphs" transform="translate(1299.24 923) rotate(-45)">मंसिर २४</text>
<text class="la" x="0.5" y="0" font-size="10.6" fill="#555" text-anchor="end" textLength="21.4" lengthAdjust="spacingAndGlyphs" transform="translate(1322.32 923) rotate(-45)">पौष ८</text>
<text class="la" x="0.5" y="0" font-size="10.6" fill="#555" text-anchor="end" textLength="26.8" lengthAdjust="spacingAndGlyphs" transform="translate(1345.4 923) rotate(-45)">पौष २२</text>
<text class="la" x="0.5" y="0" font-size="10.6" fill="#555" text-anchor="end" textLength="28.3" lengthAdjust="spacingAndGlyphs" transform="translate(1368.48 923) rotate(-45)">माघ ०७</text>
<text class="la" x="0.5" y="0" font-size="10.6" fill="#555" text-anchor="end" textLength="27.7" lengthAdjust="spacingAndGlyphs" transform="translate(1391.56 923) rotate(-45)">माघ २१</text>
<text class="la" x="0.5" y="0" font-size="10.6" fill="#555" text-anchor="end" textLength="39.8" lengthAdjust="spacingAndGlyphs" transform="translate(1414.64 923) rotate(-45)">फाल्गुन ०५</text>
<text class="la" x="0.5" y="0" font-size="10.6" fill="#555" text-anchor="end" textLength="39.1" lengthAdjust="spacingAndGlyphs" transform="translate(1437.72 923) rotate(-45)">फाल्गुन १९</text>
<text class="la" x="0.5" y="0" font-size="10.6" fill="#555" text-anchor="end" textLength="25.4" lengthAdjust="spacingAndGlyphs" transform="translate(1460.8 923) rotate(-45)">चैत्र ०४</text>
<text class="la" x="0.5" y="0" font-size="10.6" fill="#555" text-anchor="end" textLength="26.1" lengthAdjust="spacingAndGlyphs" transform="translate(1483.88 923) rotate(-45)">चैत्र १८</text>
<text class="la" x="0.5" y="0" font-size="10.6" fill="#555" text-anchor="end" textLength="56.5" lengthAdjust="spacingAndGlyphs" transform="translate(1506.96 923) rotate(-45)">२०७८ वैशाख १</text>
<text class="la" x="0.5" y="0" font-size="10.6" fill="#555" text-anchor="end" textLength="63.6" lengthAdjust="spacingAndGlyphs" transform="translate(1530.04 923) rotate(-45)">२०७८ वैशाख १५</text>
<text class="lab" x="0" y="0" font-size="5.3" fill="#fff" text-anchor="middle" textLength="14" lengthAdjust="spacingAndGlyphs" transform="translate(780.6 147.6) rotate(27)">जननी</text>
<text class="lab" x="0" y="0" font-size="5.3" fill="#fff" text-anchor="middle" textLength="28.5" lengthAdjust="spacingAndGlyphs" transform="translate(804.8 154.4) rotate(10)">जन्मभूमिश्च</text>
<text class="lab" x="0" y="0" font-size="5.3" fill="#fff" text-anchor="middle" textLength="26.4" lengthAdjust="spacingAndGlyphs" transform="translate(836 154.2) rotate(-9)">स्वर्गादपि</text>
<text class="lab" x="0" y="0" font-size="5.3" fill="#fff" text-anchor="middle" textLength="15.6" lengthAdjust="spacingAndGlyphs" transform="translate(861.6 146.6) rotate(-29)">गरीयसी</text>
<text class="lsb" x="951" y="1018.1" font-size="23" fill="#1c316b" textLength="39.5" lengthAdjust="spacingAndGlyphs">लिङ्ग</text>
<text class="lsb" x="998" y="1018.1" font-size="23.5" fill="#1c316b" textLength="364.4" lengthAdjust="spacingAndGlyphs">अनुसार कोभीड-१९ संक्रमितहरूको विवरण</text>
<text class="la" x="991.8" y="1112" font-size="17.5" fill="#5f5f5f" textLength="54" lengthAdjust="spacingAndGlyphs">महिला,</text>
<text class="la" x="977.3" y="1143.2" font-size="18" fill="#5f5f5f" textLength="86.7" lengthAdjust="spacingAndGlyphs">११०३०९,</text>
<text class="la" x="983.3" y="1173.4" font-size="16.7" fill="#5f5f5f" textLength="74" lengthAdjust="spacingAndGlyphs">३५.८२%</text>
<text class="la" x="1322.8" y="1155.2" font-size="18" fill="#5f5f5f" textLength="41.3" lengthAdjust="spacingAndGlyphs">पुरुष,</text>
<text class="la" x="1301" y="1185.2" font-size="17.4" fill="#5f5f5f" textLength="86.3" lengthAdjust="spacingAndGlyphs">१९७६१६,</text>
<text class="la" x="1306" y="1216.7" font-size="17.1" fill="#5f5f5f" textLength="74.7" lengthAdjust="spacingAndGlyphs">६४.१८%</text>
<text class="la" x="1342.4" y="1097.3" font-size="16.8" fill="#5f5f5f" textLength="38.4" lengthAdjust="spacingAndGlyphs">पुरुष</text>
<text class="la" x="1413.4" y="1097.3" font-size="16.8" fill="#5f5f5f" textLength="50" lengthAdjust="spacingAndGlyphs">महिला</text>
<text class="lab" x="1523.3" y="1195.2" font-size="25" fill="#000">१</text>
</svg>
</div></body></html>
